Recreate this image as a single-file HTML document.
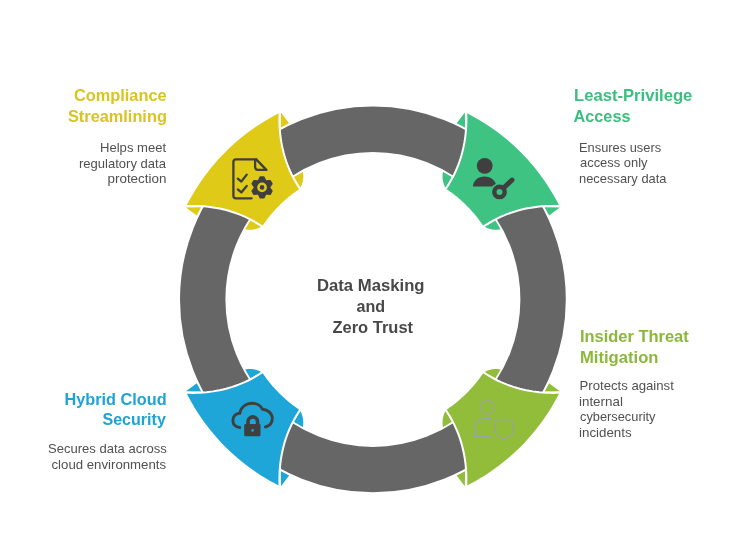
<!DOCTYPE html>
<html><head><meta charset="utf-8">
<style>
html,body{margin:0;padding:0;background:#fff;}
body{width:747px;height:558px;position:relative;overflow:hidden;font-family:"Liberation Sans",sans-serif;}
svg{position:absolute;left:0;top:0;}
.t{position:absolute;font-weight:bold;font-size:15px;line-height:21px;white-space:nowrap;}
.d{position:absolute;font-size:12px;line-height:16px;color:#555;white-space:nowrap;}
.r{text-align:right;}
.c{text-align:center;}
</style></head><body>
<svg width="747" height="558" viewBox="0 0 747 558">
<path d="M559.86,207.48 L544.59,207.19 L549.04,215.61Z" fill="#3ec383"/>
<path d="M500.89,229.26 L496.50,219.64 L484.34,226.85 L485.98,227.61 L487.63,228.26 L489.27,228.79 L490.92,229.20 L492.58,229.50 L494.23,229.68 L495.89,229.75 L497.55,229.70 L499.22,229.54Z" fill="#3ec383"/>
<path d="M464.82,112.44 L465.11,127.71 L456.69,123.26Z" fill="#3ec383"/>
<path d="M443.04,171.41 L452.66,175.80 L445.45,187.96 L444.69,186.32 L444.04,184.67 L443.51,183.03 L443.10,181.38 L442.80,179.72 L442.62,178.07 L442.55,176.41 L442.60,174.75 L442.76,173.08Z" fill="#3ec383"/>
<path d="M464.82,486.36 L465.11,471.09 L456.69,475.54Z" fill="#92bd3b"/>
<path d="M443.04,427.39 L452.66,423.00 L445.45,410.84 L444.69,412.48 L444.04,414.13 L443.51,415.77 L443.10,417.42 L442.80,419.08 L442.62,420.73 L442.55,422.39 L442.60,424.05 L442.76,425.72Z" fill="#92bd3b"/>
<path d="M559.86,391.32 L544.59,391.61 L549.04,383.19Z" fill="#92bd3b"/>
<path d="M500.89,369.54 L496.50,379.16 L484.34,371.95 L485.98,371.19 L487.63,370.54 L489.27,370.01 L490.92,369.60 L492.58,369.30 L494.23,369.12 L495.89,369.05 L497.55,369.10 L499.22,369.26Z" fill="#92bd3b"/>
<path d="M185.94,391.32 L201.21,391.61 L196.76,383.19Z" fill="#1fa6d9"/>
<path d="M244.91,369.54 L249.30,379.16 L261.46,371.95 L259.82,371.19 L258.17,370.54 L256.53,370.01 L254.88,369.60 L253.22,369.30 L251.57,369.12 L249.91,369.05 L248.25,369.10 L246.58,369.26Z" fill="#1fa6d9"/>
<path d="M280.98,486.36 L280.69,471.09 L289.11,475.54Z" fill="#1fa6d9"/>
<path d="M302.76,427.39 L293.14,423.00 L300.35,410.84 L301.11,412.48 L301.76,414.13 L302.29,415.77 L302.70,417.42 L303.00,419.08 L303.18,420.73 L303.25,422.39 L303.20,424.05 L303.04,425.72Z" fill="#1fa6d9"/>
<path d="M280.98,112.44 L280.69,127.71 L289.11,123.26Z" fill="#e0ca18"/>
<path d="M302.76,171.41 L293.14,175.80 L300.35,187.96 L301.11,186.32 L301.76,184.67 L302.29,183.03 L302.70,181.38 L303.00,179.72 L303.18,178.07 L303.25,176.41 L303.20,174.75 L303.04,173.08Z" fill="#e0ca18"/>
<path d="M185.94,207.48 L201.21,207.19 L196.76,215.61Z" fill="#e0ca18"/>
<path d="M244.91,229.26 L249.30,219.64 L261.46,226.85 L259.82,227.61 L258.17,228.26 L256.53,228.79 L254.88,229.20 L253.22,229.50 L251.57,229.68 L249.91,229.75 L248.25,229.70 L246.58,229.54Z" fill="#e0ca18"/>
<circle cx="372.9" cy="299.4" r="170.2" fill="none" stroke="#fff" stroke-width="49.00000000000001"/>
<circle cx="372.9" cy="299.4" r="170.2" fill="none" stroke="#666666" stroke-width="45.400000000000006"/>
<path d="M466.24,112.87 L471.20,115.43 L476.09,118.13 L480.91,120.96 L485.65,123.92 L490.31,127.00 L494.89,130.21 L499.37,133.53 L503.77,136.98 L508.08,140.55 L512.28,144.22 L516.39,148.01 L520.39,151.91 L524.29,155.91 L528.08,160.02 L531.75,164.22 L535.32,168.53 L538.77,172.93 L542.09,177.41 L545.30,181.99 L548.38,186.65 L551.34,191.39 L554.17,196.21 L556.87,201.10 L559.43,206.06 L556.05,205.95 L552.68,205.92 L549.32,205.97 L545.96,206.10 L542.62,206.31 L539.30,206.60 L535.99,206.97 L532.70,207.43 L529.42,207.97 L526.17,208.59 L522.94,209.30 L519.73,210.09 L516.55,210.97 L513.39,211.93 L510.26,212.99 L507.17,214.12 L504.10,215.35 L501.07,216.66 L498.07,218.06 L495.10,219.56 L492.17,221.14 L489.29,222.81 L486.44,224.57 L483.63,226.43 L482.38,224.57 L481.10,222.73 L479.79,220.91 L478.45,219.12 L477.08,217.34 L475.68,215.60 L474.25,213.87 L472.79,212.17 L471.30,210.50 L469.79,208.85 L468.24,207.22 L466.67,205.63 L465.08,204.06 L463.45,202.51 L461.80,201.00 L460.13,199.51 L458.43,198.05 L456.70,196.62 L454.96,195.22 L453.18,193.85 L451.39,192.51 L449.57,191.20 L447.73,189.92 L445.87,188.67 L447.73,185.86 L449.49,183.01 L451.16,180.13 L452.74,177.20 L454.24,174.23 L455.64,171.23 L456.95,168.20 L458.18,165.13 L459.31,162.04 L460.37,158.91 L461.33,155.75 L462.21,152.57 L463.00,149.36 L463.71,146.13 L464.33,142.88 L464.87,139.60 L465.33,136.31 L465.70,133.00 L465.99,129.68 L466.20,126.34 L466.33,122.98 L466.38,119.62 L466.35,116.25 L466.24,112.87Z" fill="#3ec383"/>
<path d="M559.43,206.06 L556.05,205.95 L552.68,205.92 L549.32,205.97 L545.96,206.10 L542.62,206.31 L539.30,206.60 L535.99,206.97 L532.70,207.43 L529.42,207.97 L526.17,208.59 L522.94,209.30 L519.73,210.09 L516.55,210.97 L513.39,211.93 L510.26,212.99 L507.17,214.12 L504.10,215.35 L501.07,216.66 L498.07,218.06 L495.10,219.56 L492.17,221.14 L489.29,222.81 L486.44,224.57 L483.63,226.43" fill="none" stroke="#fff" stroke-width="2" stroke-linecap="round"/>
<path d="M466.24,112.87 L466.35,116.25 L466.38,119.62 L466.33,122.98 L466.20,126.34 L465.99,129.68 L465.70,133.00 L465.33,136.31 L464.87,139.60 L464.33,142.88 L463.71,146.13 L463.00,149.36 L462.21,152.57 L461.33,155.75 L460.37,158.91 L459.31,162.04 L458.18,165.13 L456.95,168.20 L455.64,171.23 L454.24,174.23 L452.74,177.20 L451.16,180.13 L449.49,183.01 L447.73,185.86 L445.87,188.67" fill="none" stroke="#fff" stroke-width="2" stroke-linecap="round"/>
<path d="M559.43,392.74 L556.87,397.70 L554.17,402.59 L551.34,407.41 L548.38,412.15 L545.30,416.81 L542.09,421.39 L538.77,425.87 L535.32,430.27 L531.75,434.58 L528.08,438.78 L524.29,442.89 L520.39,446.89 L516.39,450.79 L512.28,454.58 L508.08,458.25 L503.77,461.82 L499.37,465.27 L494.89,468.59 L490.31,471.80 L485.65,474.88 L480.91,477.84 L476.09,480.67 L471.20,483.37 L466.24,485.93 L466.35,482.55 L466.38,479.18 L466.33,475.82 L466.20,472.46 L465.99,469.12 L465.70,465.80 L465.33,462.49 L464.87,459.20 L464.33,455.92 L463.71,452.67 L463.00,449.44 L462.21,446.23 L461.33,443.05 L460.37,439.89 L459.31,436.76 L458.18,433.67 L456.95,430.60 L455.64,427.57 L454.24,424.57 L452.74,421.60 L451.16,418.67 L449.49,415.79 L447.73,412.94 L445.87,410.13 L447.73,408.88 L449.57,407.60 L451.39,406.29 L453.18,404.95 L454.96,403.58 L456.70,402.18 L458.43,400.75 L460.13,399.29 L461.80,397.80 L463.45,396.29 L465.08,394.74 L466.67,393.17 L468.24,391.58 L469.79,389.95 L471.30,388.30 L472.79,386.63 L474.25,384.93 L475.68,383.20 L477.08,381.46 L478.45,379.68 L479.79,377.89 L481.10,376.07 L482.38,374.23 L483.63,372.37 L486.44,374.23 L489.29,375.99 L492.17,377.66 L495.10,379.24 L498.07,380.74 L501.07,382.14 L504.10,383.45 L507.17,384.68 L510.26,385.81 L513.39,386.87 L516.55,387.83 L519.73,388.71 L522.94,389.50 L526.17,390.21 L529.42,390.83 L532.70,391.37 L535.99,391.83 L539.30,392.20 L542.62,392.49 L545.96,392.70 L549.32,392.83 L552.68,392.88 L556.05,392.85 L559.43,392.74Z" fill="#92bd3b"/>
<path d="M466.24,485.93 L466.35,482.55 L466.38,479.18 L466.33,475.82 L466.20,472.46 L465.99,469.12 L465.70,465.80 L465.33,462.49 L464.87,459.20 L464.33,455.92 L463.71,452.67 L463.00,449.44 L462.21,446.23 L461.33,443.05 L460.37,439.89 L459.31,436.76 L458.18,433.67 L456.95,430.60 L455.64,427.57 L454.24,424.57 L452.74,421.60 L451.16,418.67 L449.49,415.79 L447.73,412.94 L445.87,410.13" fill="none" stroke="#fff" stroke-width="2" stroke-linecap="round"/>
<path d="M559.43,392.74 L556.05,392.85 L552.68,392.88 L549.32,392.83 L545.96,392.70 L542.62,392.49 L539.30,392.20 L535.99,391.83 L532.70,391.37 L529.42,390.83 L526.17,390.21 L522.94,389.50 L519.73,388.71 L516.55,387.83 L513.39,386.87 L510.26,385.81 L507.17,384.68 L504.10,383.45 L501.07,382.14 L498.07,380.74 L495.10,379.24 L492.17,377.66 L489.29,375.99 L486.44,374.23 L483.63,372.37" fill="none" stroke="#fff" stroke-width="2" stroke-linecap="round"/>
<path d="M279.56,485.93 L274.60,483.37 L269.71,480.67 L264.89,477.84 L260.15,474.88 L255.49,471.80 L250.91,468.59 L246.43,465.27 L242.03,461.82 L237.72,458.25 L233.52,454.58 L229.41,450.79 L225.41,446.89 L221.51,442.89 L217.72,438.78 L214.05,434.58 L210.48,430.27 L207.03,425.87 L203.71,421.39 L200.50,416.81 L197.42,412.15 L194.46,407.41 L191.63,402.59 L188.93,397.70 L186.37,392.74 L189.75,392.85 L193.12,392.88 L196.48,392.83 L199.84,392.70 L203.18,392.49 L206.50,392.20 L209.81,391.83 L213.10,391.37 L216.38,390.83 L219.63,390.21 L222.86,389.50 L226.07,388.71 L229.25,387.83 L232.41,386.87 L235.54,385.81 L238.63,384.68 L241.70,383.45 L244.73,382.14 L247.73,380.74 L250.70,379.24 L253.63,377.66 L256.51,375.99 L259.36,374.23 L262.17,372.37 L263.42,374.23 L264.70,376.07 L266.01,377.89 L267.35,379.68 L268.72,381.46 L270.12,383.20 L271.55,384.93 L273.01,386.63 L274.50,388.30 L276.01,389.95 L277.56,391.58 L279.13,393.17 L280.72,394.74 L282.35,396.29 L284.00,397.80 L285.67,399.29 L287.37,400.75 L289.10,402.18 L290.84,403.58 L292.62,404.95 L294.41,406.29 L296.23,407.60 L298.07,408.88 L299.93,410.13 L298.07,412.94 L296.31,415.79 L294.64,418.67 L293.06,421.60 L291.56,424.57 L290.16,427.57 L288.85,430.60 L287.62,433.67 L286.49,436.76 L285.43,439.89 L284.47,443.05 L283.59,446.23 L282.80,449.44 L282.09,452.67 L281.47,455.92 L280.93,459.20 L280.47,462.49 L280.10,465.80 L279.81,469.12 L279.60,472.46 L279.47,475.82 L279.42,479.18 L279.45,482.55 L279.56,485.93Z" fill="#1fa6d9"/>
<path d="M186.37,392.74 L189.75,392.85 L193.12,392.88 L196.48,392.83 L199.84,392.70 L203.18,392.49 L206.50,392.20 L209.81,391.83 L213.10,391.37 L216.38,390.83 L219.63,390.21 L222.86,389.50 L226.07,388.71 L229.25,387.83 L232.41,386.87 L235.54,385.81 L238.63,384.68 L241.70,383.45 L244.73,382.14 L247.73,380.74 L250.70,379.24 L253.63,377.66 L256.51,375.99 L259.36,374.23 L262.17,372.37" fill="none" stroke="#fff" stroke-width="2" stroke-linecap="round"/>
<path d="M279.56,485.93 L279.45,482.55 L279.42,479.18 L279.47,475.82 L279.60,472.46 L279.81,469.12 L280.10,465.80 L280.47,462.49 L280.93,459.20 L281.47,455.92 L282.09,452.67 L282.80,449.44 L283.59,446.23 L284.47,443.05 L285.43,439.89 L286.49,436.76 L287.62,433.67 L288.85,430.60 L290.16,427.57 L291.56,424.57 L293.06,421.60 L294.64,418.67 L296.31,415.79 L298.07,412.94 L299.93,410.13" fill="none" stroke="#fff" stroke-width="2" stroke-linecap="round"/>
<path d="M186.37,206.06 L188.93,201.10 L191.63,196.21 L194.46,191.39 L197.42,186.65 L200.50,181.99 L203.71,177.41 L207.03,172.93 L210.48,168.53 L214.05,164.22 L217.72,160.02 L221.51,155.91 L225.41,151.91 L229.41,148.01 L233.52,144.22 L237.72,140.55 L242.03,136.98 L246.43,133.53 L250.91,130.21 L255.49,127.00 L260.15,123.92 L264.89,120.96 L269.71,118.13 L274.60,115.43 L279.56,112.87 L279.45,116.25 L279.42,119.62 L279.47,122.98 L279.60,126.34 L279.81,129.68 L280.10,133.00 L280.47,136.31 L280.93,139.60 L281.47,142.88 L282.09,146.13 L282.80,149.36 L283.59,152.57 L284.47,155.75 L285.43,158.91 L286.49,162.04 L287.62,165.13 L288.85,168.20 L290.16,171.23 L291.56,174.23 L293.06,177.20 L294.64,180.13 L296.31,183.01 L298.07,185.86 L299.93,188.67 L298.07,189.92 L296.23,191.20 L294.41,192.51 L292.62,193.85 L290.84,195.22 L289.10,196.62 L287.37,198.05 L285.67,199.51 L284.00,201.00 L282.35,202.51 L280.72,204.06 L279.13,205.63 L277.56,207.22 L276.01,208.85 L274.50,210.50 L273.01,212.17 L271.55,213.87 L270.12,215.60 L268.72,217.34 L267.35,219.12 L266.01,220.91 L264.70,222.73 L263.42,224.57 L262.17,226.43 L259.36,224.57 L256.51,222.81 L253.63,221.14 L250.70,219.56 L247.73,218.06 L244.73,216.66 L241.70,215.35 L238.63,214.12 L235.54,212.99 L232.41,211.93 L229.25,210.97 L226.07,210.09 L222.86,209.30 L219.63,208.59 L216.38,207.97 L213.10,207.43 L209.81,206.97 L206.50,206.60 L203.18,206.31 L199.84,206.10 L196.48,205.97 L193.12,205.92 L189.75,205.95 L186.37,206.06Z" fill="#e0ca18"/>
<path d="M279.56,112.87 L279.45,116.25 L279.42,119.62 L279.47,122.98 L279.60,126.34 L279.81,129.68 L280.10,133.00 L280.47,136.31 L280.93,139.60 L281.47,142.88 L282.09,146.13 L282.80,149.36 L283.59,152.57 L284.47,155.75 L285.43,158.91 L286.49,162.04 L287.62,165.13 L288.85,168.20 L290.16,171.23 L291.56,174.23 L293.06,177.20 L294.64,180.13 L296.31,183.01 L298.07,185.86 L299.93,188.67" fill="none" stroke="#fff" stroke-width="2" stroke-linecap="round"/>
<path d="M186.37,206.06 L189.75,205.95 L193.12,205.92 L196.48,205.97 L199.84,206.10 L203.18,206.31 L206.50,206.60 L209.81,206.97 L213.10,207.43 L216.38,207.97 L219.63,208.59 L222.86,209.30 L226.07,210.09 L229.25,210.97 L232.41,211.93 L235.54,212.99 L238.63,214.12 L241.70,215.35 L244.73,216.66 L247.73,218.06 L250.70,219.56 L253.63,221.14 L256.51,222.81 L259.36,224.57 L262.17,226.43" fill="none" stroke="#fff" stroke-width="2" stroke-linecap="round"/>
<g fill="none" stroke="#3f3f3f" stroke-width="2.3" stroke-linecap="round" stroke-linejoin="round">
<path d="M251.6 198.3H236Q233.4 198.3 233.4 195.7V162Q233.4 159.4 236 159.4H256.2"/>
<path d="M256.2 159.4L266.4 169.9H258Q255.1 169.9 255.1 167V160.2Z"/>
<path d="M237.8 178.6L241.3 181.6L246.7 174.6M237.8 189.4L241.3 192.4L246.7 186"/>
</g>
<path d="M258.55 181.34 L260.44 177.23 L263.66 177.23 L265.55 181.34 L270.05 180.92 L271.67 183.71 L269.05 187.40 L271.67 191.09 L270.05 193.88 L265.55 193.46 L263.66 197.57 L260.44 197.57 L258.55 193.46 L254.05 193.88 L252.43 191.09 L255.05 187.40 L252.43 183.71 L254.05 180.92Z" fill="#3f3f3f" stroke="#3f3f3f" stroke-width="2" stroke-linejoin="round"/>
<circle cx="262.05" cy="187.4" r="3.6" fill="none" stroke="#dfc81c" stroke-width="2.5"/>
<!-- green icon -->
<g fill="#3f3f3f">
<circle cx="484.7" cy="165.8" r="7.9"/>
<path d="M472.9 186.5C473.5 180.5 478 176.6 484.5 176.6C491 176.6 495.5 180.5 496.5 186.5Z"/>
</g>
<g fill="none" stroke="#3ec383" stroke-width="7.6" stroke-linecap="round">
<circle cx="499.5" cy="191.9" r="5.2"/><path d="M503.5 188L512 180"/>
</g>
<g fill="none" stroke="#3f3f3f" stroke-width="4.4" stroke-linecap="round">
<circle cx="499.5" cy="191.9" r="5.2"/><path d="M503.5 188L512 180" stroke-width="4.9"/>
</g>
<!-- lime icon -->
<g fill="none" stroke="#9ca2a2" stroke-width="1.15" stroke-linejoin="round">
<circle cx="487.4" cy="407.3" r="6.8"/>
<path d="M491.6 418.6H485Q474.9 418.6 474.9 428.7V436.3H491.6"/>
<path d="M495.1 421H513.3V430.4Q513.3 435.5 504.2 438.8Q495.1 435.5 495.1 430.4Z"/>
</g>
<!-- blue icon -->
<g fill="none" stroke="#3f3f3f" stroke-width="2.9" stroke-linecap="round">
<path d="M239.8 427.5C235 427 232.9 424 232.9 420.6C232.9 416 236 413.5 239.8 413.2C241 407 246 403.3 252.6 403.3C257 403.3 260.5 405.5 262.5 409.2C268 409.5 272.3 413.5 272.3 418.6C272.3 423 269.5 426 265.4 427"/>
<path d="M248 425V421.7A4.8 4.8 0 0 1 257.6 421.7V425" stroke-width="3.6"/>
</g>
<rect x="244.2" y="424" width="16.3" height="12.3" rx="1.4" fill="#3f3f3f"/>
<circle cx="252.6" cy="430.4" r="1.3" fill="#1fa7da"/>

<g font-family="Liberation Sans, sans-serif" style="will-change:transform">
<text transform="translate(73.98,100.5) scale(1.0223,1)" font-size="16.0" font-weight="bold" fill="#d9c420">Compliance</text>
<text transform="translate(67.98,121.5) scale(1.0212,1)" font-size="16.0" font-weight="bold" fill="#d9c420">Streamlining</text>
<text transform="translate(573.98,100.5) scale(1.0408,1)" font-size="16.0" font-weight="bold" fill="#3bbf7f">Least-Privilege</text>
<text transform="translate(573.49,121.6) scale(1.0180,1)" font-size="16.0" font-weight="bold" fill="#3bbf7f">Access</text>
<text transform="translate(579.98,342.0) scale(1.0286,1)" font-size="16.0" font-weight="bold" fill="#8bb83c">Insider Threat</text>
<text transform="translate(579.97,362.9) scale(1.0406,1)" font-size="16.0" font-weight="bold" fill="#8bb83c">Mitigation</text>
<text transform="translate(64.47,404.6) scale(1.0185,1)" font-size="16.0" font-weight="bold" fill="#1ea3d7">Hybrid Cloud</text>
<text transform="translate(102.50,425.0) scale(1.0033,1)" font-size="16.0" font-weight="bold" fill="#1ea3d7">Security</text>
<text transform="translate(316.96,291.0) scale(1.0436,1)" font-size="16.0" font-weight="bold" fill="#484848">Data Masking</text>
<text transform="translate(356.50,311.8) scale(1.0077,1)" font-size="16.0" font-weight="bold" fill="#484848">and</text>
<text transform="translate(332.48,333.0) scale(1.0309,1)" font-size="16.0" font-weight="bold" fill="#484848">Zero Trust</text>
<text transform="translate(100.01,151.8) scale(0.9910,1)" font-size="13.2" fill="#505050">Helps meet</text>
<text transform="translate(79.00,167.6) scale(0.9888,1)" font-size="13.2" fill="#505050">regulatory data</text>
<text transform="translate(107.46,183.0) scale(1.0186,1)" font-size="13.2" fill="#505050">protection</text>
<text transform="translate(579.03,151.8) scale(0.9735,1)" font-size="13.2" fill="#505050">Ensures users</text>
<text transform="translate(580.00,167.3) scale(0.9798,1)" font-size="13.2" fill="#505050">access only</text>
<text transform="translate(579.02,182.8) scale(0.9775,1)" font-size="13.2" fill="#505050">necessary data</text>
<text transform="translate(579.50,390.2) scale(0.9979,1)" font-size="13.2" fill="#505050">Protects against</text>
<text transform="translate(578.99,405.9) scale(1.0147,1)" font-size="13.2" fill="#505050">internal</text>
<text transform="translate(580.00,421.4) scale(0.9719,1)" font-size="13.2" fill="#505050">cybersecurity</text>
<text transform="translate(578.99,436.9) scale(1.0119,1)" font-size="13.2" fill="#505050">incidents</text>
<text transform="translate(48.01,452.9) scale(0.9883,1)" font-size="13.2" fill="#505050">Secures data across</text>
<text transform="translate(51.50,468.5) scale(1.0018,1)" font-size="13.2" fill="#505050">cloud environments</text>
</g>
</svg>
</body></html>
